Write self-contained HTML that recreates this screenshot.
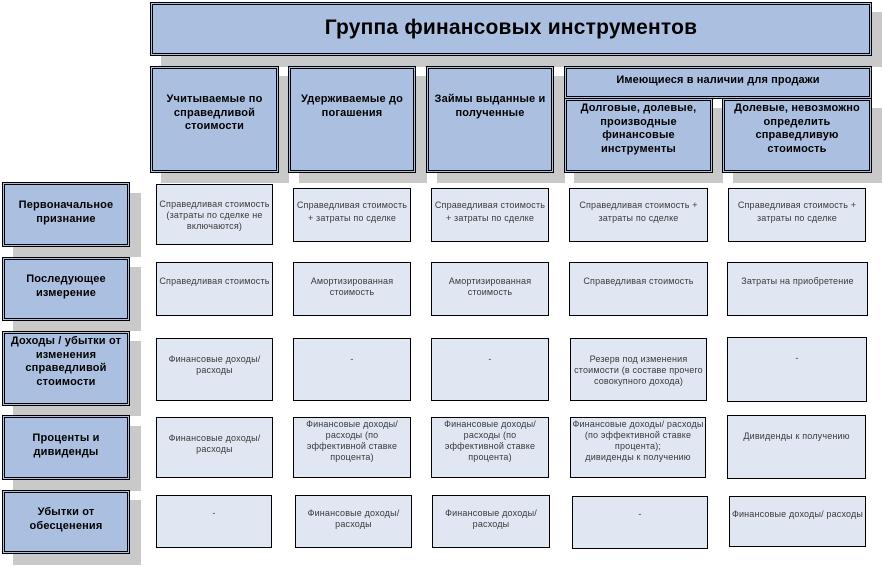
<!DOCTYPE html>
<html lang="ru">
<head>
<meta charset="utf-8">
<style>
html,body{margin:0;padding:0;background:#fff}
#p{position:relative;width:883px;height:566px;overflow:hidden;background:#fff;font-family:"Liberation Sans",sans-serif}
#p div{position:absolute;box-sizing:border-box;text-align:center}
.s{background:#c9c9c9}
.h{background:#abc0e0;border:1px solid #000;color:#000;font-weight:bold;font-size:11px;line-height:13.7px;letter-spacing:.17px}
.h:after{content:"";position:absolute;left:1px;top:1px;right:1px;bottom:1px;border:1px solid #000}
.h span{position:absolute;left:0;right:0;display:block;z-index:1}
.c{background:#e1e7f2;border:1px solid #000;color:#3a3a3a;font-size:9px;line-height:11.1px;letter-spacing:.17px}
.c span{position:absolute;left:-3px;right:-3px;display:block}
</style>
</head>
<body>
<div id="p">
<div class="s" style="left:161px;top:12px;width:721px;height:55px"></div>
<div class="s" style="left:161px;top:76px;width:128px;height:107px"></div>
<div class="s" style="left:299px;top:76px;width:128px;height:107px"></div>
<div class="s" style="left:437px;top:76px;width:128px;height:107px"></div>
<div class="s" style="left:574px;top:108px;width:149px;height:75px"></div>
<div class="s" style="left:733px;top:108px;width:149px;height:75px"></div>
<div class="s" style="left:13px;top:193px;width:128px;height:64px"></div>
<div class="s" style="left:13px;top:267px;width:128px;height:64px"></div>
<div class="s" style="left:13px;top:341px;width:128px;height:75px"></div>
<div class="s" style="left:13px;top:426px;width:128px;height:65px"></div>
<div class="s" style="left:13px;top:500px;width:128px;height:65px"></div>

<div class="h" style="left:150px;top:2px;width:722px;height:54px;font-size:21px;line-height:24px;letter-spacing:.2px"><span style="top:13px">Группа финансовых инструментов</span></div>

<div class="h" style="left:150px;top:66px;width:129px;height:107px"><span style="top:26px">Учитываемые по<br>справедливой<br>стоимости</span></div>
<div class="h" style="left:288px;top:66px;width:128px;height:107px"><span style="top:26px">Удерживаемые до<br>погашения</span></div>
<div class="h" style="left:426px;top:66px;width:128px;height:107px"><span style="top:26px">Займы выданные и<br>полученные</span></div>
<div class="h" style="left:564px;top:66px;width:308px;height:33px;letter-spacing:.12px"><span style="top:7px">Имеющиеся в наличии для продажи</span></div>
<div class="h" style="left:564px;top:98px;width:149px;height:75px"><span style="top:3px">Долговые, долевые,<br>производные<br>финансовые<br>инструменты</span></div>
<div class="h" style="left:722px;top:98px;width:150px;height:75px"><span style="top:3px">Долевые, невозможно<br>определить<br>справедливую<br>стоимость</span></div>

<div class="h" style="left:2px;top:182px;width:128px;height:65px"><span style="top:16px">Первоначальное<br>признание</span></div>
<div class="h" style="left:2px;top:257px;width:128px;height:64px"><span style="top:15px">Последующее<br>измерение</span></div>
<div class="h" style="left:2px;top:331px;width:128px;height:75px"><span style="top:3px">Доходы / убытки от<br>изменения<br>справедливой<br>стоимости</span></div>
<div class="h" style="left:2px;top:415px;width:128px;height:65px"><span style="top:16px">Проценты и<br>дивиденды</span></div>
<div class="h" style="left:2px;top:490px;width:128px;height:64px"><span style="top:15px">Убытки от<br>обесценения</span></div>

<div class="c" style="left:156px;top:184px;width:117px;height:61px"><span style="top:14px">Справедливая стоимость<br>(затраты по сделке не<br>включаются)</span></div>
<div class="c" style="left:293px;top:188px;width:118px;height:54px;line-height:12.5px"><span style="top:10px">Справедливая стоимость<br>+ затраты по сделке</span></div>
<div class="c" style="left:431px;top:188px;width:118px;height:54px;line-height:12.5px"><span style="top:10px">Справедливая стоимость<br>+ затраты по сделке</span></div>
<div class="c" style="left:569px;top:188px;width:139px;height:54px;line-height:12.5px"><span style="top:10px">Справедливая стоимость +<br>затраты по сделке</span></div>
<div class="c" style="left:728px;top:188px;width:138px;height:54px;line-height:12.5px"><span style="top:10px">Справедливая стоимость +<br>затраты по сделке</span></div>

<div class="c" style="left:156px;top:262px;width:117px;height:54px"><span style="top:13px">Справедливая стоимость</span></div>
<div class="c" style="left:293px;top:262px;width:118px;height:54px"><span style="top:13px">Амортизированная<br>стоимость</span></div>
<div class="c" style="left:431px;top:262px;width:118px;height:54px"><span style="top:13px">Амортизированная<br>стоимость</span></div>
<div class="c" style="left:569px;top:262px;width:139px;height:54px"><span style="top:13px">Справедливая стоимость</span></div>
<div class="c" style="left:727px;top:262px;width:141px;height:54px"><span style="top:13px">Затраты на приобретение</span></div>

<div class="c" style="left:156px;top:338px;width:117px;height:63px"><span style="top:15px">Финансовые доходы/<br>расходы</span></div>
<div class="c" style="left:293px;top:338px;width:118px;height:63px"><span style="top:15px">-</span></div>
<div class="c" style="left:431px;top:338px;width:118px;height:63px"><span style="top:15px">-</span></div>
<div class="c" style="left:570px;top:338px;width:137px;height:63px"><span style="top:15px">Резерв под изменения<br>стоимости (в составе прочего<br>совокупного дохода)</span></div>
<div class="c" style="left:727px;top:337px;width:140px;height:65px"><span style="top:15px">-</span></div>

<div class="c" style="left:156px;top:417px;width:117px;height:61px"><span style="top:15px">Финансовые доходы/<br>расходы</span></div>
<div class="c" style="left:293px;top:417px;width:118px;height:61px"><span style="top:1px">Финансовые доходы/<br>расходы (по<br>эффективной ставке<br>процента)</span></div>
<div class="c" style="left:431px;top:417px;width:118px;height:61px"><span style="top:1px">Финансовые доходы/<br>расходы (по<br>эффективной ставке<br>процента)</span></div>
<div class="c" style="left:570px;top:417px;width:136px;height:61px"><span style="top:1px">Финансовые доходы/ расходы<br>(по эффективной ставке<br>процента);<br>дивиденды к получению</span></div>
<div class="c" style="left:727px;top:415px;width:139px;height:64px"><span style="top:15px">Дивиденды к получению</span></div>

<div class="c" style="left:156px;top:495px;width:116px;height:53px"><span style="top:12px">-</span></div>
<div class="c" style="left:295px;top:495px;width:117px;height:53px"><span style="top:12px">Финансовые доходы/<br>расходы</span></div>
<div class="c" style="left:432px;top:495px;width:118px;height:53px"><span style="top:12px">Финансовые доходы/<br>расходы</span></div>
<div class="c" style="left:572px;top:496px;width:136px;height:53px"><span style="top:12px">-</span></div>
<div class="c" style="left:729px;top:496px;width:137px;height:51px"><span style="top:12px">Финансовые доходы/ расходы</span></div>
</div>
</body>
</html>
